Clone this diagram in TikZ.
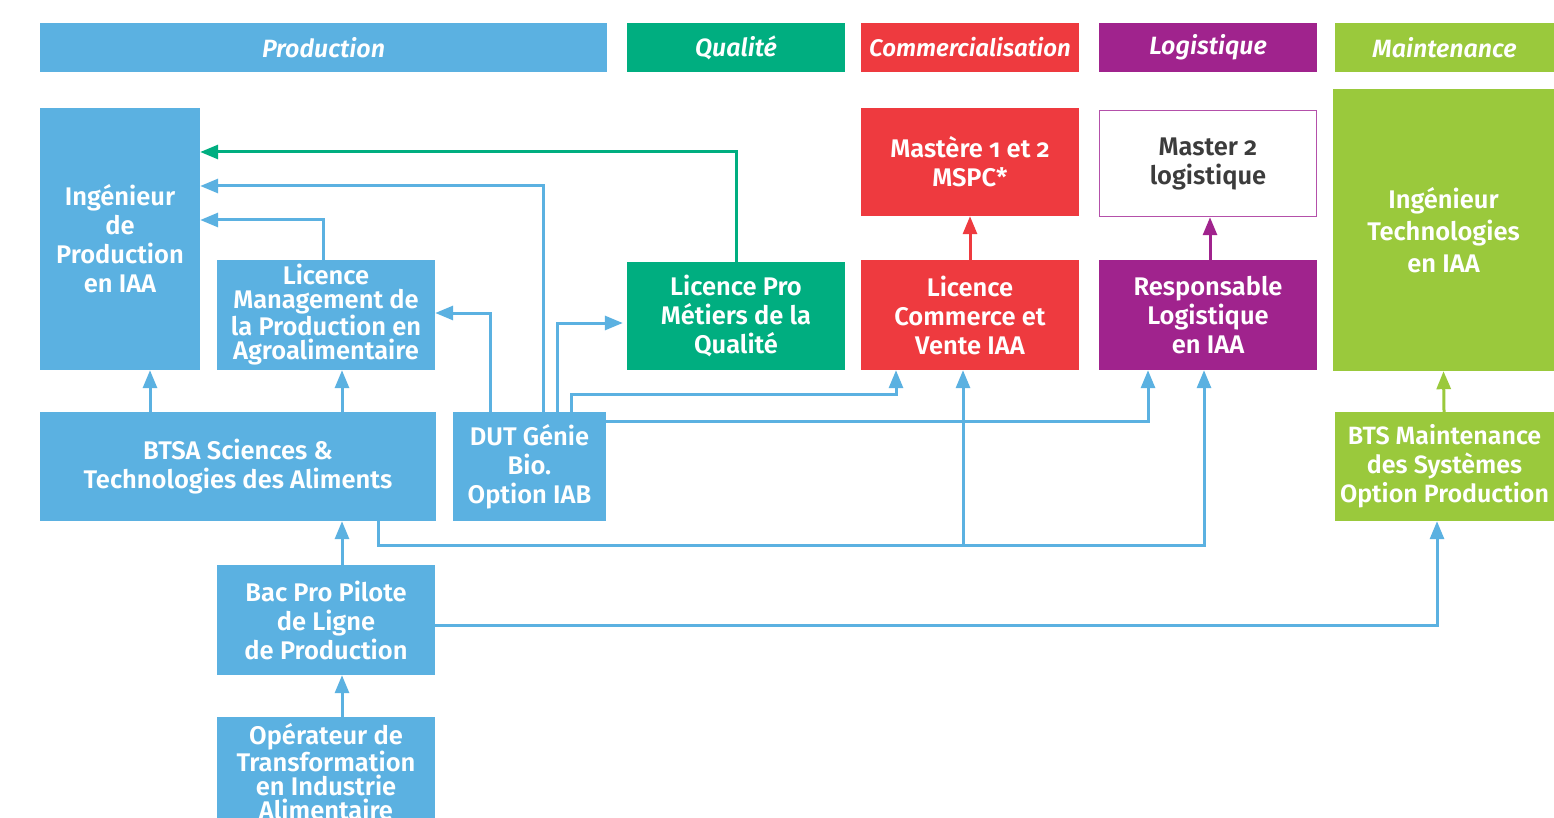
\documentclass[tikz,border=0pt]{standalone}
\usepackage{fontspec}
\setmainfont{Fira Sans}[BoldFont={Fira Sans SemiBold}, BoldItalicFont={Fira Sans SemiBold Italic}]
\usetikzlibrary{arrows.meta}
\definecolor{cblue}{RGB}{91,177,225}
\definecolor{cgreen}{RGB}{0,174,128}
\definecolor{cred}{RGB}{238,58,63}
\definecolor{cpurple}{RGB}{160,35,141}
\definecolor{clime}{RGB}{154,201,60}
\definecolor{cborder}{RGB}{180,80,170}
\definecolor{cdark}{RGB}{60,60,60}
\tikzset{
  box/.style={draw=none, inner sep=0pt, align=center, text=white,
    font=\bfseries\fontsize{25.5}{29}\selectfont},
  head/.style={draw=none, inner sep=0pt, align=center, text=white,
    minimum height=49pt, font=\bfseries\itshape\fontsize{25}{29}\selectfont},
  conn/.style={line width=3pt, -{Triangle[length=18pt,width=14pt]}},
  bconn/.style={conn, draw=cblue},
  gconn/.style={conn, draw=cgreen},
  rconn/.style={conn, draw=cred},
  pconn/.style={conn, draw=cpurple},
  lconn/.style={conn, draw=clime},
}
\begin{document}
\begin{tikzpicture}[x=1pt,y=-1pt]
\useasboundingbox (0,0) rectangle (1554,818);
\clip (0,0) rectangle (1554,818);
\fill[white] (0,0) rectangle (1554,818);
% headers
\node[head, fill=cblue, minimum width=567pt] (hP) at (323.5,47.5) {Production};
\node[head, fill=cgreen, minimum width=218pt] (hQ) at (736,47.5) {Qualité};
\node[head, fill=cred, minimum width=218pt, font=\bfseries\itshape\fontsize{24}{29}\selectfont] (hC) at (970,47.5) {Commercialisation};
\node[head, fill=cpurple, minimum width=218pt] (hL) at (1208,47.5) {Logistique};
\node[head, fill=clime, minimum width=219pt] (hM) at (1444.5,47.5) {Maintenance};
% boxes
\node[box, fill=cblue, minimum width=160pt, minimum height=262pt] (ingP) at (120,239) {Ingénieur\\de\\Production\\en IAA};
\node[box, fill=cblue, minimum width=218pt, minimum height=110pt, font=\bfseries\fontsize{25.5}{24}\selectfont] (licM) at (326,315) {Licence\\Management de\\la Production en\\Agroalimentaire};
\node[box, fill=cgreen, minimum width=218pt, minimum height=108pt] (licQ) at (736,316) {Licence Pro\\Métiers de la\\Qualité};
\node[box, fill=cred, minimum width=218pt, minimum height=108pt] (mast) at (970,162) {Mastère {\addfontfeatures{Numbers=OldStyle}1} et {\addfontfeatures{Numbers=OldStyle}2}\\MSPC*};
\node[box, fill=cred, minimum width=218pt, minimum height=110pt] (licC) at (970,315) {Licence\\Commerce et\\Vente IAA};
\node[box, fill=white, draw=cborder, line width=1.5pt, text=cdark, minimum width=217pt, minimum height=106pt] (m2) at (1208,163.5) {Master {\addfontfeatures{Numbers=OldStyle}2}\\logistique};
\node[box, fill=cpurple, minimum width=218pt, minimum height=110pt] (resp) at (1208,315) {Responsable\\Logistique\\en IAA};
\node[box, fill=clime, minimum width=221pt, minimum height=282pt, font=\bfseries\fontsize{25.5}{32}\selectfont] (ingT) at (1443.5,230) {Ingénieur\\Technologies\\en IAA};
\node[box, fill=cblue, minimum width=396pt, minimum height=109pt] (btsa) at (238,466.5) {BTSA Sciences \&\\Technologies des Aliments};
\node[box, fill=cblue, minimum width=153pt, minimum height=109pt] (dut) at (529.5,466.5) {DUT Génie\\Bio.\\Option IAB};
\node[box, fill=clime, minimum width=219pt, minimum height=109pt, font=\bfseries\fontsize{25}{29}\selectfont] (bts) at (1444.5,466.5) {BTS Maintenance\\des Systèmes\\Option Production};
\node[box, fill=cblue, minimum width=218pt, minimum height=110pt] (bac) at (326,620) {Bac Pro Pilote\\de Ligne\\de Production};
\node[box, fill=cblue, minimum width=218pt, minimum height=110pt, font=\bfseries\fontsize{25.5}{24}\selectfont] (op) at (326,772) {Opérateur de\\Transformation\\en Industrie\\Alimentaire};
% connectors
\draw[gconn] (licQ.north) |- ([yshift=87pt]ingP.east);
\draw[bconn] ([xshift=13.5pt]dut.north) |- ([yshift=53pt]ingP.east);
\draw[bconn] ([xshift=-3pt]licM.north) |- ([yshift=19pt]ingP.east);
\draw[bconn] ([xshift=-39.5pt]dut.north) |- ([yshift=2pt]licM.east);
\draw[bconn, shorten >=4pt] ([xshift=27.5pt]dut.north) |- ([yshift=-7pt]licQ.west);
\draw[bconn] ([xshift=41.5pt]dut.north) -- ++(0,-17) -| ([xshift=-74pt]licC.south);
\draw[bconn] ([yshift=45.5pt]dut.east) -| ([xshift=-60pt]resp.south);
\draw[bconn] ([xshift=140pt]btsa.south) -- ++(0,24) -| ([xshift=-4pt]resp.south);
\coordinate (j) at (963,545);
\draw[bconn] (j) -- ([xshift=-7pt]licC.south);
\draw[bconn] ([xshift=-88pt]btsa.north) -- ([xshift=30pt]ingP.south);
\draw[bconn] ([xshift=104pt]btsa.north) -- ([xshift=16pt]licM.south);
\draw[bconn] ([xshift=16pt]bac.north) -- ([xshift=104pt]btsa.south);
\draw[bconn] ([yshift=-5pt]bac.east) -| ([xshift=-7.5pt]bts.south);
\draw[bconn] ([xshift=16pt]op.north) -- ([xshift=16pt]bac.south);
\draw[lconn] ([xshift=-0.5pt]bts.north) -- (ingT.south);
\draw[rconn] (licC.north) -- (mast.south);
\draw[pconn] ([xshift=2pt]resp.north) -- ([xshift=2pt]m2.south);
\end{tikzpicture}
\end{document}
